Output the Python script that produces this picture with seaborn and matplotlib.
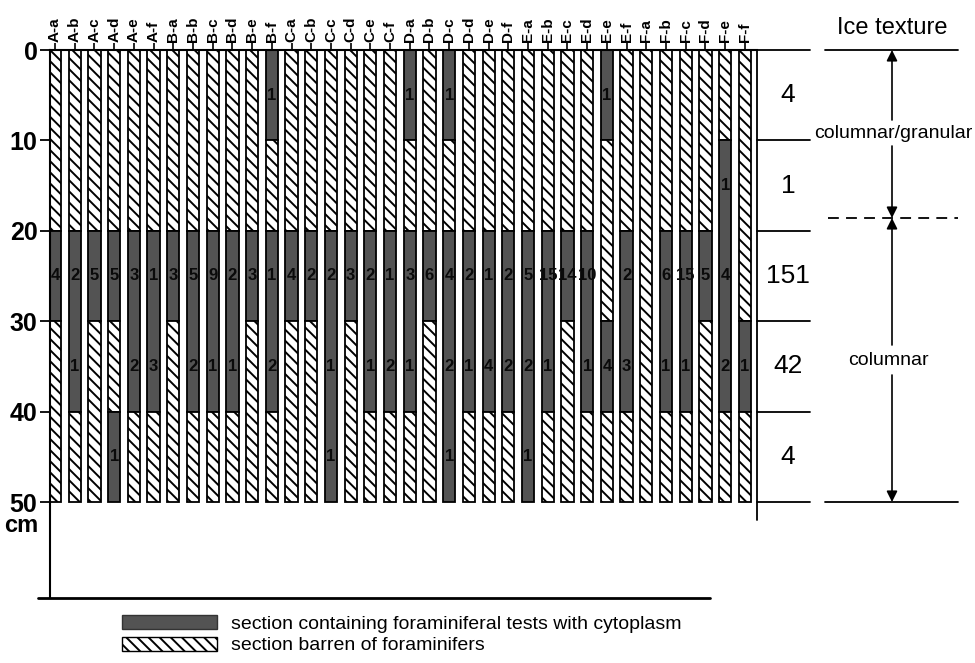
import matplotlib
matplotlib.use("Agg")
import matplotlib.pyplot as plt
import seaborn as sns
from matplotlib.patches import Patch

# core names, in the order they stand along the top
cores = [f"{g}-{s}" for g in "ABCDEF" for s in "abcdef"]

# foraminifer counts per 10 cm section (0 = barren section)
sec_0_10 = [0, 0, 0, 0, 0, 0,  0, 0, 0, 0, 0, 1,  0, 0, 0, 0, 0, 0,
            1, 0, 1, 0, 0, 0,  0, 0, 0, 0, 1, 0,  0, 0, 0, 0, 0, 0]
sec_10_20 = [0, 0, 0, 0, 0, 0,  0, 0, 0, 0, 0, 0,  0, 0, 0, 0, 0, 0,
             0, 0, 0, 0, 0, 0,  0, 0, 0, 0, 0, 0,  0, 0, 0, 0, 1, 0]
sec_20_30 = [4, 2, 5, 5, 3, 1,  3, 5, 9, 2, 3, 1,  4, 2, 2, 3, 2, 1,
             3, 6, 4, 2, 1, 2,  5, 15, 14, 10, 0, 2,  0, 6, 15, 5, 4, 0]
sec_30_40 = [0, 1, 0, 0, 2, 3,  0, 2, 1, 1, 0, 2,  0, 0, 1, 0, 1, 2,
             1, 0, 2, 1, 4, 2,  2, 1, 0, 1, 4, 3,  0, 1, 1, 0, 2, 1]
sec_40_50 = [0, 0, 0, 1, 0, 0,  0, 0, 0, 0, 0, 0,  0, 0, 1, 0, 0, 0,
             0, 0, 1, 0, 0, 0,  1, 0, 0, 0, 0, 0,  0, 0, 0, 0, 0, 0]
section_tops = [0, 10, 20, 30, 40]
section_totals = [4, 1, 151, 42, 4]

DARK = "#535353"
HATCH = "\\\\\\"

sns.set_theme(style="white", rc={"text.color": "black", "axes.edgecolor": "black"})
plt.rcParams["font.family"] = ["Liberation Sans", "DejaVu Sans"]
plt.rcParams["hatch.linewidth"] = 1.4

fig = plt.figure(figsize=(9.75, 6.63), dpi=100)
ax = fig.add_axes([50 / 975, 65 / 663, 707 / 975, 548 / 663])


# helpers to place things given in picture pixels
def px_x(p):
    return (p - 55) / 19.71


def px_y(p):
    return (p - 50) / 9.04


sections = [sec_0_10, sec_10_20, sec_20_30, sec_30_40, sec_40_50]

# draw each core as runs of dark / barren sections
for i in range(len(cores)):
    states = [sec[i] > 0 for sec in sections]
    start = 0
    for k in range(1, len(sections) + 1):
        if k == len(sections) or states[k] != states[start]:
            dark = states[start]
            ax.bar(i, (k - start) * 10, bottom=section_tops[start], width=0.62,
                   facecolor=DARK if dark else "white", edgecolor="black",
                   hatch=None if dark else HATCH, linewidth=1.3)
            start = k

# counts inside the dark sections
for s, sec in enumerate(sections):
    for i, c in enumerate(sec):
        if c:
            ax.text(i, section_tops[s] + 5, str(c), ha="center", va="center",
                    fontsize=12, fontweight="bold", color="#0a0a0a")

ax.set_xlim(px_x(50), px_x(757))
ax.set_ylim(px_y(598), 0)

ax.spines["right"].set_visible(False)
ax.spines["bottom"].set_visible(False)
for sp in ["left", "top"]:
    ax.spines[sp].set_linewidth(1.5)
    ax.spines[sp].set_color("black")

ax.xaxis.tick_top()
ax.set_xticks(range(len(cores)))
ax.set_xticklabels(cores, rotation=90, fontsize=11, fontweight="bold")
ax.tick_params(axis="x", top=True, bottom=False, direction="out", length=5,
               width=1.2, pad=1, colors="black")
ax.set_yticks([0, 10, 20, 30, 40, 50])
ax.set_yticklabels(["0", "10", "20", "30", "40", "50"], fontsize=18, fontweight="bold")
ax.tick_params(axis="y", left=True, direction="out", length=7, width=1.3,
               pad=2, colors="black")
fig.text(38 / 975, 1 - 526 / 663, "cm", ha="right", va="center",
         fontsize=17, fontweight="bold")

# base line under the cores
ax.plot([px_x(38), px_x(710)], [px_y(598)] * 2, color="black", lw=2, clip_on=False)

# totals column on the right
ax.plot([px_x(757)] * 2, [0, px_y(520)], color="black", lw=1.3, clip_on=False)
for d in section_tops + [50]:
    ax.plot([px_x(757), px_x(810)], [d, d], color="black", lw=1.3, clip_on=False)
for top, tot in zip(section_tops, section_totals):
    ax.text(px_x(788), top + 5, str(tot), ha="center", va="center", fontsize=19)

# ice texture scale
xa = px_x(892)
ax.text(xa, px_y(28), "Ice texture", ha="center", va="center", fontsize=17)
for d in [0, 50]:
    ax.plot([px_x(825), px_x(958)], [d, d], color="black", lw=1.3, clip_on=False)
ax.plot([px_x(828), px_x(958)], [px_y(218)] * 2, color="black", lw=1.3,
        dashes=(6, 4), clip_on=False)
arrow = dict(arrowstyle="-|>", color="black", lw=1.2, mutation_scale=16,
             shrinkA=0, shrinkB=0)
for tip, tail in [(0, px_y(120)), (px_y(218), px_y(146)),
                  (px_y(218), px_y(345)), (50, px_y(375))]:
    ax.annotate("", xy=(xa, tip), xytext=(xa, tail), arrowprops=arrow,
                annotation_clip=False)
ax.text(px_x(893), px_y(133), "columnar/granular", ha="center", va="center", fontsize=14)
ax.text(px_x(888), px_y(360), "columnar", ha="center", va="center", fontsize=14)

# legend
handles = [Patch(facecolor=DARK, edgecolor="#333333"),
           Patch(facecolor="white", edgecolor="black", hatch=HATCH)]
labels = ["section containing foraminiferal tests with cytoplasm",
          "section barren of foraminifers"]
fig.legend(handles, labels, loc="upper left", bbox_to_anchor=(122 / 975, 1 - 615 / 663),
           bbox_transform=fig.transFigure, frameon=False, fontsize=14,
           handlelength=4.9, handleheight=0.7, handletextpad=0.7,
           labelspacing=0.22, borderpad=0, borderaxespad=0)

fig.savefig("out.png", dpi=100)
